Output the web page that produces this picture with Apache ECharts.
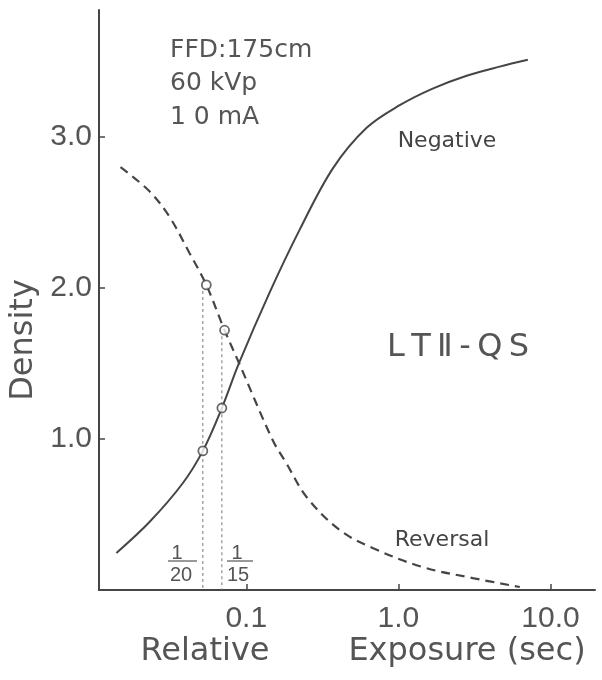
<!DOCTYPE html>
<html>
<head>
<meta charset="utf-8">
<script src="https://cdn.jsdelivr.net/npm/echarts@6/dist/echarts.min.js"></script>
<style>
html,body{margin:0;padding:0;background:#fff;}
#c{width:602px;height:680px;}
</style>
</head>
<body>
<div id="c"></div>
<script>
// Negative (solid) characteristic curve: relative exposure (sec) vs density
var negExposure = [0.0140, 0.0231, 0.0381, 0.0518, 0.0691, 0.0894, 0.142, 0.224, 0.370, 0.618, 1.02, 1.68, 2.81, 4.63, 7.09];
var negDensity  = [0.245, 0.450, 0.705, 0.921, 1.205, 1.500, 1.967, 2.384, 2.790, 3.06, 3.21, 3.32, 3.405, 3.465, 3.51];
// Reversal (dashed) curve
var revExposure = [0.0149, 0.0231, 0.0313, 0.0424, 0.0546, 0.0720, 0.0894, 0.149, 0.183, 0.249, 0.411, 0.677, 1.44, 3.08, 6.28];
var revDensity  = [2.80, 2.64, 2.47, 2.23, 2.02, 1.72, 1.505, 0.993, 0.841, 0.616, 0.397, 0.278, 0.152, 0.079, 0.02];
// Marked points (circles)
var negMarkX = [0.0518, 0.0691];
var negMarkY = [0.921, 1.205];
var revMarkX = [0.0546, 0.0720];
var revMarkY = [2.02, 1.72];
// Exposure guide lines 1/20 and 1/15
var guideX = [0.0518, 0.0691];
var guideTop = [1.98, 1.68];
// Axis ticks
var xTicks = [0.1, 1, 10];
var xTickLabels = ['0.1', '1.0', '10.0'];
var yTicks = [1, 2, 3];
var yTickLabels = ['1.0', '2.0', '3.0'];

function pairs(xs, ys){ return xs.map(function(x,i){ return [x, ys[i]]; }); }

var ink = '#454545';
var txt = '#555555';
var numFont = '"Liberation Sans", Arial, sans-serif';
var lblFont = '"DejaVu Sans", sans-serif';

var series = [
  { type:'line', data: pairs(negExposure, negDensity), smooth:0.35, symbol:'none',
    lineStyle:{color:ink, width:2}, z:3 },
  { type:'line', data: pairs(revExposure, revDensity), smooth:0.35, symbol:'none',
    lineStyle:{color:ink, width:2.2, type:[9,6]}, z:3 }
];
guideX.forEach(function(gx, i){
  series.push({ type:'line', data:[[gx, guideTop[i]],[gx, 0]], symbol:'none',
    lineStyle:{color:'#777', width:1, type:[3,3]}, z:2 });
});
series.push({ type:'scatter', data: pairs(negMarkX, negMarkY).concat(pairs(revMarkX, revMarkY)),
  symbol:'circle', symbolSize:9,
  itemStyle:{color:'#fff', borderColor:ink, borderWidth:1.8}, z:5 });

var chart = echarts.init(document.getElementById('c'), null, {renderer:'canvas'});
chart.setOption({
  animation:false,
  backgroundColor:'#fff',
  grid:{left:99, right:7, top:10, bottom:90, containLabel:false},
  xAxis:{
    type:'log', logBase:10, min:0.01076, max:19.6,
    axisLine:{show:true, lineStyle:{color:ink, width:2}},
    axisTick:{show:true, inside:true, length:6, lineStyle:{color:ink, width:1.5}, customValues:xTicks},
    axisLabel:{show:true, customValues:xTicks, margin:14, color:txt, fontSize:30, fontFamily:numFont,
      formatter:function(v){ var i = xTicks.findIndex(function(t){return Math.abs(Math.log10(t)-Math.log10(v))<0.01;}); return i>=0 ? xTickLabels[i] : ''; }},
    splitLine:{show:false}, minorTick:{show:false}
  },
  yAxis:{
    type:'value', min:0, max:3.84,
    axisLine:{show:true, lineStyle:{color:ink, width:2}},
    axisTick:{show:true, inside:true, length:6, lineStyle:{color:ink, width:1.5}, customValues:yTicks},
    axisLabel:{show:true, customValues:yTicks, margin:7, color:txt, fontSize:30, fontFamily:numFont,
      formatter:function(v){ var i = yTicks.indexOf(Math.round(v)); return i>=0 ? yTickLabels[i] : ''; }},
    splitLine:{show:false}
  },
  graphic:[
    {type:'text', x:170, y:50, style:{text:'FFD:175cm', font:'25px '+lblFont, fill:txt, textVerticalAlign:'middle'}},
    {type:'text', x:170, y:83, style:{text:'60 kVp', font:'25px '+lblFont, fill:txt, textVerticalAlign:'middle'}},
    {type:'text', x:170, y:117, style:{text:'1 0 mA', font:'25px '+lblFont, fill:txt, textVerticalAlign:'middle'}},
    {type:'text', x:447, y:141, style:{text:'Negative', font:'22px '+lblFont, fill:'#444', textAlign:'center', textVerticalAlign:'middle'}},
    {type:'text', x:442, y:540, style:{text:'Reversal', font:'22px '+lblFont, fill:'#444', textAlign:'center', textVerticalAlign:'middle'}},
    {type:'text', x:458, y:348, style:{text:'L\u2009T\u2009Ⅱ\u2009-\u2009Q\u2009S', font:'32px '+lblFont, fill:'#555', textAlign:'center', textVerticalAlign:'middle'}},
    {type:'text', x:177, y:553, style:{text:'1', font:'20px '+numFont, fill:txt, textAlign:'center', textVerticalAlign:'middle'}},
    {type:'line', shape:{x1:168, y1:561, x2:197, y2:561}, style:{stroke:txt, lineWidth:1.2}},
    {type:'text', x:181, y:575, style:{text:'20', font:'20px '+numFont, fill:txt, textAlign:'center', textVerticalAlign:'middle'}},
    {type:'text', x:237, y:553, style:{text:'1', font:'20px '+numFont, fill:txt, textAlign:'center', textVerticalAlign:'middle'}},
    {type:'line', shape:{x1:227, y1:561, x2:253, y2:561}, style:{stroke:txt, lineWidth:1.2}},
    {type:'text', x:238, y:575, style:{text:'15', font:'20px '+numFont, fill:txt, textAlign:'center', textVerticalAlign:'middle'}},
    {type:'text', x:24, y:340, rotation:Math.PI/2, style:{text:'Density', font:'32px '+lblFont, fill:txt, textAlign:'center', textVerticalAlign:'middle'}},
    {type:'text', x:205, y:652, style:{text:'Relative', font:'32px '+lblFont, fill:txt, textAlign:'center', textVerticalAlign:'middle'}},
    {type:'text', x:467, y:652, style:{text:'Exposure (sec)', font:'32px '+lblFont, fill:txt, textAlign:'center', textVerticalAlign:'middle'}}
  ],
  series: series
});
</script>
</body>
</html>
